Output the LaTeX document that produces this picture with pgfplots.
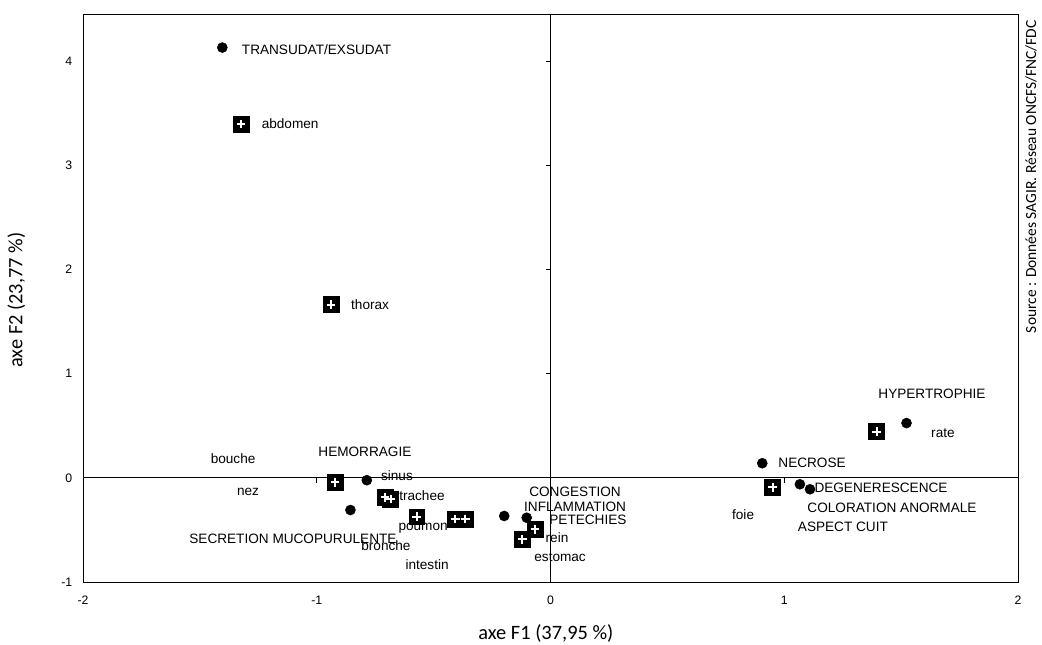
\documentclass[border=0pt]{standalone}
\usepackage{pgfplots}
\pgfplotsset{compat=1.18}
\usepackage{fontspec}
\setmainfont{Liberation Sans}
\newfontfamily\calib{Carlito}
\begin{document}
\begin{tikzpicture}
\begin{axis}[
  name=ax,
  scale only axis,
  width=701pt, height=426pt,
  xmin=-2, xmax=2, ymin=-1, ymax=4.45,
  xtick={-2,-1,0,1,2}, xticklabels={{-2},{-1},{0},{1},{2}},
  ytick={-1,0,1,2,3,4}, yticklabels={{-1},{0},{1},{2},{3},{4}},
  major tick length=0pt,
  tick label style={font=\fontsize{9.2}{11}\selectfont},
  xticklabel style={yshift=-6.5pt},
  yticklabel style={xshift=-4.5pt},
  axis line style={black, line width=0.7pt},
  clip=false,
]
% zero lines
\draw[line width=0.7pt] (axis cs:-2,0) -- (axis cs:2,0);
\draw[line width=0.7pt] (axis cs:0,-1) -- (axis cs:0,4.45);
\draw[line width=0.6pt] (axis cs:-1,0) -- (axis cs:-1,-0.045);
\draw[line width=0.6pt] (axis cs:1,0) -- (axis cs:1,-0.045);
\draw[line width=0.6pt] (axis cs:0,1) -- (axis cs:-0.02,1);
\draw[line width=0.6pt] (axis cs:0,2) -- (axis cs:-0.02,2);
\draw[line width=0.6pt] (axis cs:0,3) -- (axis cs:-0.02,3);
\draw[line width=0.6pt] (axis cs:0,4) -- (axis cs:-0.02,4);

% circles (variables)
\addplot[only marks, mark=*, mark size=3.75pt, black] coordinates {
(-1.404,4.128) (1.523,0.526) (0.906,0.141) (1.067,-0.061) (1.110,-0.109)
(-0.786,-0.022) (-0.856,-0.308) (-0.198,-0.365) (-0.102,-0.382)
};
% squares (organs)
\addplot[only marks, mark=square*, mark size=5.9pt, black] coordinates {
(-1.324,3.394) (-0.939,1.663) (1.395,0.445) (0.950,-0.090)
(-0.922,-0.041) (-0.708,-0.185) (-0.684,-0.202) (-0.572,-0.372)
(-0.408,-0.394) (-0.365,-0.394) (-0.066,-0.491) (-0.121,-0.587)
};
\addplot[only marks, mark=+, mark size=3.3pt, white, line width=1.5pt] coordinates {
(-1.324,3.394) (-0.939,1.663) (1.395,0.445) (0.950,-0.090)
(-0.922,-0.041) (-0.708,-0.185) (-0.684,-0.202) (-0.572,-0.372)
(-0.408,-0.394) (-0.365,-0.394) (-0.066,-0.491) (-0.121,-0.587)
};

% labels
\tikzset{lab/.style={font=\fontsize{10.2}{12}\selectfont, inner sep=0pt}}
\node[lab] at (axis cs:-1.001,4.109) {TRANSUDAT/EXSUDAT};
\node[lab] at (axis cs:-1.114,3.394) {abdomen};
\node[lab] at (axis cs:-0.772,1.663) {thorax};
\node[lab] at (axis cs:1.632,0.808) {HYPERTROPHIE};
\node[lab] at (axis cs:1.679,0.433) {rate};
\node[lab] at (axis cs:1.119,0.144) {NECROSE};
\node[lab] at (axis cs:1.414,-0.096) {DEGENERESCENCE};
\node[lab] at (axis cs:1.461,-0.288) {COLORATION ANORMALE};
\node[lab] at (axis cs:1.251,-0.471) {ASPECT CUIT};
\node[lab] at (axis cs:0.824,-0.356) {foie};
\node[lab] at (axis cs:-1.358,0.183) {bouche};
\node[lab] at (axis cs:-1.294,-0.135) {nez};
\node[lab] at (axis cs:-0.794,0.250) {HEMORRAGIE};
\node[lab] at (axis cs:-0.657,0.019) {sinus};
\node[lab] at (axis cs:-0.550,-0.173) {trachee};
\node[lab] at (axis cs:-0.545,-0.481) {poumon};
\node[lab] at (axis cs:-1.102,-0.587) {SECRETION MUCOPURULENTE};
\node[lab] at (axis cs:-0.704,-0.654) {bronche};
\node[lab] at (axis cs:-0.528,-0.827) {intestin};
\node[lab] at (axis cs:0.105,-0.135) {CONGESTION};
\node[lab] at (axis cs:0.105,-0.279) {INFLAMMATION};
\node[lab] at (axis cs:0.160,-0.404) {PETECHIES};
\node[lab] at (axis cs:0.028,-0.577) {rein};
\node[lab] at (axis cs:0.041,-0.760) {estomac};
\end{axis}
\node[font=\calib\fontsize{15.3}{17}\selectfont] at ([xshift=-3.5pt,yshift=-38.5pt]ax.south) {axe F1 (37,95 \%)};
\node[rotate=90, font=\calib\fontsize{15.3}{17}\selectfont] at ([xshift=-50pt,yshift=-1.5pt]ax.west) {axe F2 (23,77 \%)};
\node[rotate=90, font=\calib\fontsize{11.6}{13}\selectfont] at ([xshift=9.75pt,yshift=-122pt]ax.north east) {Source : Données SAGIR. Réseau ONCFS/FNC/FDC};
\pgfresetboundingbox
\path[use as bounding box] ([xshift=-62.25pt,yshift=-46.5pt]ax.south west) rectangle ([xshift=18pt,yshift=10.5pt]ax.north east);
\end{tikzpicture}
\end{document}
